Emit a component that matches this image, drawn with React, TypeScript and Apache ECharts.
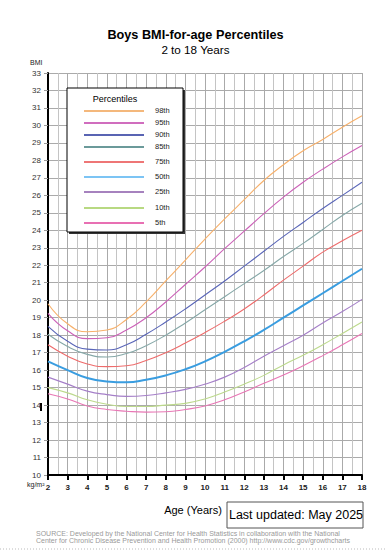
import React, { useEffect, useRef } from "react";
import * as echarts from "echarts";

const ages = [2, 3, 4, 5, 6, 7, 8, 9, 10, 11, 12, 13, 14, 15, 16, 17, 18];
const p98 = [19.8, 18.65, 18.2, 18.3, 18.9, 19.9, 21.1, 22.3, 23.5, 24.65, 25.75, 26.85, 27.75, 28.55, 29.2, 29.9, 30.55];
const p95 = [19.25, 18.25, 17.8, 17.85, 18.3, 19.0, 19.9, 20.9, 21.9, 22.95, 23.95, 24.95, 25.9, 26.75, 27.5, 28.2, 28.85];
const p90 = [18.5, 17.65, 17.2, 17.15, 17.45, 18.05, 18.75, 19.5, 20.3, 21.1, 21.95, 22.8, 23.65, 24.45, 25.25, 26.0, 26.75];
const p85 = [18.05, 17.35, 16.9, 16.75, 16.95, 17.4, 18.0, 18.7, 19.45, 20.2, 20.95, 21.7, 22.5, 23.25, 24.05, 24.85, 25.55];
const p75 = [17.45, 16.8, 16.35, 16.2, 16.25, 16.55, 17.0, 17.55, 18.15, 18.8, 19.5, 20.3, 21.15, 21.95, 22.75, 23.4, 24.0];
const p50 = [16.5, 16.0, 15.55, 15.35, 15.3, 15.45, 15.7, 16.05, 16.5, 17.05, 17.65, 18.3, 19.0, 19.7, 20.4, 21.1, 21.8];
const p25 = [15.6, 15.2, 14.8, 14.6, 14.5, 14.55, 14.7, 14.9, 15.2, 15.6, 16.15, 16.8, 17.4, 18.0, 18.7, 19.35, 20.05];
const p10 = [15.0, 14.7, 14.3, 14.05, 13.92, 13.92, 14.0, 14.1, 14.35, 14.75, 15.2, 15.7, 16.3, 16.85, 17.45, 18.1, 18.75];
const p5 = [14.65, 14.35, 13.95, 13.75, 13.65, 13.6, 13.62, 13.75, 13.95, 14.3, 14.75, 15.25, 15.72, 16.25, 16.83, 17.45, 18.1];

const percentileNames = ["98th", "95th", "90th", "85th", "75th", "50th", "25th", "10th", "5th"];
const percentileValues = [p98, p95, p90, p85, p75, p50, p25, p10, p5];
const lineColors = ["#f7b06a", "#cc62b8", "#5a66b8", "#86a8a8", "#ee6c6c", "#3a9de0", "#a57fc8", "#bcd98c", "#e877b5"];
const legendColors = ["#f0a050", "#c03ca8", "#22309a", "#3a7878", "#e84848", "#50b0f0", "#8858a8", "#a0cc58", "#e0409a"];

const titleText = "Boys BMI-for-age Percentiles";
const subtitleText = "2 to 18 Years";
const updatedText = "Last updated: May 2025";
const sourceLines = [
  "SOURCE: Developed by the National Center for Health Statistics in collaboration with the National",
  "Center for Chronic Disease Prevention and Health Promotion (2000) http://www.cdc.gov/growthcharts",
];

const FONT = "'Liberation Sans', Arial, sans-serif";

export default function App() {
  const ref = useRef<HTMLDivElement>(null);
  useEffect(() => {
    if (!ref.current) return;
    const chart = echarts.init(ref.current, null, { renderer: "svg" });

    const series = percentileNames.map((name, i) => ({
      name,
      type: "line",
      smooth: true,
      showSymbol: false,
      symbol: "none",
      data: ages.map((a, j) => [a, percentileValues[i][j]]),
      lineStyle: { color: lineColors[i], width: name === "50th" ? 2 : 1.1 },
      z: name === "50th" ? 4 : 3,
    }));

    const legendRowsY = [111, 123, 135, 147, 162, 177, 192, 208, 223];
    const legendEls: any[] = [
      { type: "rect", shape: { x: 69, y: 90, width: 116, height: 144 }, style: { fill: "#333" }, z: 10 },
      { type: "rect", shape: { x: 67, y: 88, width: 116, height: 144 }, style: { fill: "#fff", stroke: "#000", lineWidth: 1 }, z: 11 },
      { type: "text", x: 115, y: 99, style: { text: "Percentiles", font: `9px ${FONT}`, fill: "#000", align: "center", verticalAlign: "middle" }, z: 12 },
    ];
    percentileNames.forEach((name, i) => {
      legendEls.push({
        type: "line",
        shape: { x1: 84, y1: legendRowsY[i], x2: 144, y2: legendRowsY[i] },
        style: { stroke: legendColors[i], lineWidth: 1.5 },
        z: 12,
      });
      legendEls.push({
        type: "text",
        x: 155,
        y: legendRowsY[i] - 1,
        style: { text: name, font: `7.5px ${FONT}`, fill: "#222", verticalAlign: "middle" },
        z: 12,
      });
    });

    const graphics: any[] = [
      { type: "text", x: 195.5, y: 35, style: { text: titleText, font: `bold 12.7px ${FONT}`, fill: "#000", align: "center", verticalAlign: "middle" } },
      { type: "text", x: 195.5, y: 49, style: { text: subtitleText, font: `11.7px ${FONT}`, fill: "#000", align: "center", verticalAlign: "middle" } },
      { type: "text", x: 30, y: 62, style: { text: "BMI", font: `7px ${FONT}`, fill: "#222", verticalAlign: "middle" } },
      { type: "text", x: 27, y: 484, style: { text: "kg/m²", font: `7px ${FONT}`, fill: "#222", verticalAlign: "middle" } },
      { type: "rect", shape: { x: 40, y: 403, width: 2, height: 8 }, style: { fill: "#000" } },
      { type: "text", x: 193, y: 510, style: { text: "Age (Years)", font: `11px ${FONT}`, fill: "#000", align: "center", verticalAlign: "middle" } },
      { type: "rect", shape: { x: 227, y: 502, width: 136, height: 26 }, style: { fill: "#fff", stroke: "#555", lineWidth: 1 } },
      { type: "text", x: 296, y: 515, style: { text: updatedText, font: `12.5px ${FONT}`, fill: "#000", align: "center", verticalAlign: "middle" } },
      { type: "text", x: 36, y: 533, style: { text: sourceLines[0], font: `7px ${FONT}`, fill: "#999", verticalAlign: "middle" } },
      { type: "text", x: 36, y: 540.5, style: { text: sourceLines[1], font: `7px ${FONT}`, fill: "#999", verticalAlign: "middle" } },
      { type: "line", shape: { x1: 0, y1: 549, x2: 385, y2: 549 }, style: { stroke: "#bbb", lineWidth: 1, lineDash: [1, 2] } },
      ...legendEls,
    ];

    chart.setOption({
      animation: false,
      backgroundColor: "#fff",
      grid: { left: 48, right: 23, top: 73, bottom: 75, containLabel: false },
      xAxis: {
        type: "value",
        min: 2,
        max: 18,
        interval: 1,
        axisLine: { show: true, lineStyle: { color: "#000", width: 2 } },
        axisTick: { show: true, length: 5, lineStyle: { color: "#000", width: 2 } },
        axisLabel: { fontSize: 8, fontWeight: "bold", color: "#222", margin: 8, fontFamily: FONT },
        splitLine: { show: true, lineStyle: { color: "#aaa", width: 1 } },
        minorTick: { show: false, splitNumber: 2 },
        minorSplitLine: { show: true, lineStyle: { color: "#c4c4c4", width: 1 } },
      },
      yAxis: {
        type: "value",
        min: 10,
        max: 33,
        interval: 1,
        axisLine: { show: true, lineStyle: { color: "#000", width: 2 } },
        axisTick: { show: true, length: 4, lineStyle: { color: "#999", width: 1 } },
        axisLabel: { fontSize: 8, color: "#333", margin: 7, fontFamily: FONT },
        splitLine: { show: true, lineStyle: { color: "#aaa", width: 1 } },
      },
      series,
      graphic: graphics,
    });
    return () => chart.dispose();
  }, []);
  return <div ref={ref} style={{ position: "fixed", left: 0, top: 0, width: 385, height: 550 }} />;
}
